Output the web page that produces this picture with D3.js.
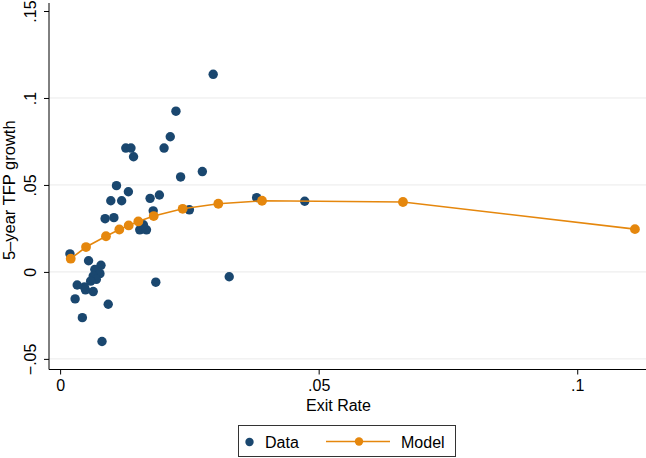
<!DOCTYPE html>
<html><head><meta charset="utf-8">
<script src="https://cdn.jsdelivr.net/npm/d3@7"></script>
<style>body{margin:0;background:#fff}svg{display:block}text{font-family:"Liberation Sans",Arial,Helvetica,sans-serif;fill:#000}</style>
</head><body><svg id="c" width="646" height="458"></svg>
<script>
const dataX = [0.0296,0.0224,0.0213,0.0201,0.0127,0.0137,0.0142,0.0233,0.0275,0.0109,0.0132,0.0098,0.0119,0.0174,0.0192,0.0180,0.0250,0.0087,0.0104,0.0154,0.0167,0.0161,0.0380,0.0473,0.0019,0.0055,0.0079,0.0067,0.0077,0.0064,0.0070,0.0059,0.0033,0.0047,0.0064,0.0029,0.0093,0.0043,0.0081,0.0185,0.0327,0.0049];
const dataY = [0.1136,0.0924,0.0777,0.0712,0.0712,0.0712,0.0662,0.0546,0.0577,0.0496,0.0461,0.0409,0.0409,0.0423,0.0442,0.0351,0.0357,0.0306,0.0312,0.0242,0.0242,0.0271,0.0427,0.0406,0.0104,0.0064,0.0038,0.0014,-0.0010,-0.0024,-0.0043,-0.0053,-0.0075,-0.0087,-0.0113,-0.0155,-0.0186,-0.0263,-0.0400,-0.0059,-0.0028,-0.0103];
const modelX = [0.00205,0.00501,0.00887,0.01145,0.01326,0.01512,0.01810,0.02370,0.03059,0.03904,0.06630,0.11116];
const modelY = [0.0076,0.0143,0.0205,0.0244,0.0267,0.0290,0.0321,0.0363,0.0392,0.0409,0.0402,0.0246];
const xTicks = [0, 0.05, 0.1];
const xTickLabels = ["0", ".05", ".1"];
const yTicks = [-0.05, 0, 0.05, 0.1, 0.15];
const yTickLabels = ["\u2212.05", "0", ".05", ".1", ".15"];
const yGrid = [-0.05, 0, 0.05, 0.1];
const xTitle = "Exit Rate";
const yTitle = "5\u2013year TFP growth";
const legendLabels = ["Data", "Model"];

const navy = "#1a476f", orange = "#e5870d";
const FS = 16;
const L = 49, R = 646, T = 3, B = 369.5;
const svg = d3.select("#c");
const x = d3.scaleLinear().domain([-0.00215, 0.1133]).range([L, R]);
const y = d3.scaleLinear().domain([-0.0561, 0.1546]).range([B, T]);

// gridlines
svg.append("g").selectAll("line").data(yGrid).join("line")
  .attr("x1", L).attr("x2", R).attr("y1", d => y(d)).attr("y2", d => y(d))
  .attr("stroke", "#eaeaea").attr("stroke-width", 1);

// axes
const yAxis = d3.axisLeft(y).tickValues(yTicks).tickFormat((d,i) => yTickLabels[i]).tickSize(5);
const gy = svg.append("g").attr("transform", `translate(${L},0)`).call(yAxis);
gy.select(".domain").remove();
gy.selectAll(".tick line").attr("stroke", "#000");
gy.selectAll(".tick text").attr("font-size", FS).attr("text-anchor", "middle")
  .attr("transform", "rotate(-90)").attr("x", 0).attr("y", -13).attr("dy", 0);

const xAxis = d3.axisBottom(x).tickValues(xTicks).tickFormat((d,i) => xTickLabels[i]).tickSize(5).tickPadding(5);
const gx = svg.append("g").attr("transform", `translate(0,${B})`).call(xAxis);
gx.select(".domain").remove();
gx.selectAll(".tick line").attr("stroke", "#000");
gx.selectAll(".tick text").attr("font-size", FS);

svg.append("line").attr("x1", L).attr("x2", L).attr("y1", T).attr("y2", B).attr("stroke", "#000").attr("stroke-width", 1);
svg.append("line").attr("x1", L).attr("x2", R).attr("y1", B).attr("y2", B).attr("stroke", "#000").attr("stroke-width", 1);

// titles
svg.append("text").attr("x", (L+R)/2 - 9).attr("y", 411).attr("text-anchor", "middle").attr("font-size", FS).text(xTitle);
svg.append("text").attr("transform", `translate(15,${(T+B)/2 + 4}) rotate(-90)`).attr("text-anchor", "middle").attr("font-size", FS + 0.5).text(yTitle);

// data points
svg.append("g").selectAll("circle").data(dataX.map((d,i)=>[d, dataY[i]])).join("circle")
  .attr("cx", d => x(d[0])).attr("cy", d => y(d[1])).attr("r", 4.7).attr("fill", navy);

// model
const pts = modelX.map((d,i)=>[d, modelY[i]]);
svg.append("path").datum(pts).attr("d", d3.line().x(d=>x(d[0])).y(d=>y(d[1])))
  .attr("fill", "none").attr("stroke", orange).attr("stroke-width", 1.6);
svg.append("g").selectAll("circle").data(pts).join("circle")
  .attr("cx", d => x(d[0])).attr("cy", d => y(d[1])).attr("r", 4.9).attr("fill", orange);

// legend
const lg = svg.append("g");
lg.append("rect").attr("x", 238.5).attr("y", 425.5).attr("width", 217).attr("height", 31)
  .attr("fill", "#fff").attr("stroke", "#333").attr("stroke-width", 1);
lg.append("circle").attr("cx", 249.5).attr("cy", 442).attr("r", 4.2).attr("fill", navy);
lg.append("text").attr("x", 265).attr("y", 447.5).attr("font-size", FS).text(legendLabels[0]);
lg.append("line").attr("x1", 326).attr("x2", 390).attr("y1", 441.5).attr("y2", 441.5).attr("stroke", orange).attr("stroke-width", 1.6);
lg.append("circle").attr("cx", 359).attr("cy", 441.5).attr("r", 4.2).attr("fill", orange);
lg.append("text").attr("x", 401).attr("y", 447.5).attr("font-size", FS).text(legendLabels[1]);
</script></body></html>
